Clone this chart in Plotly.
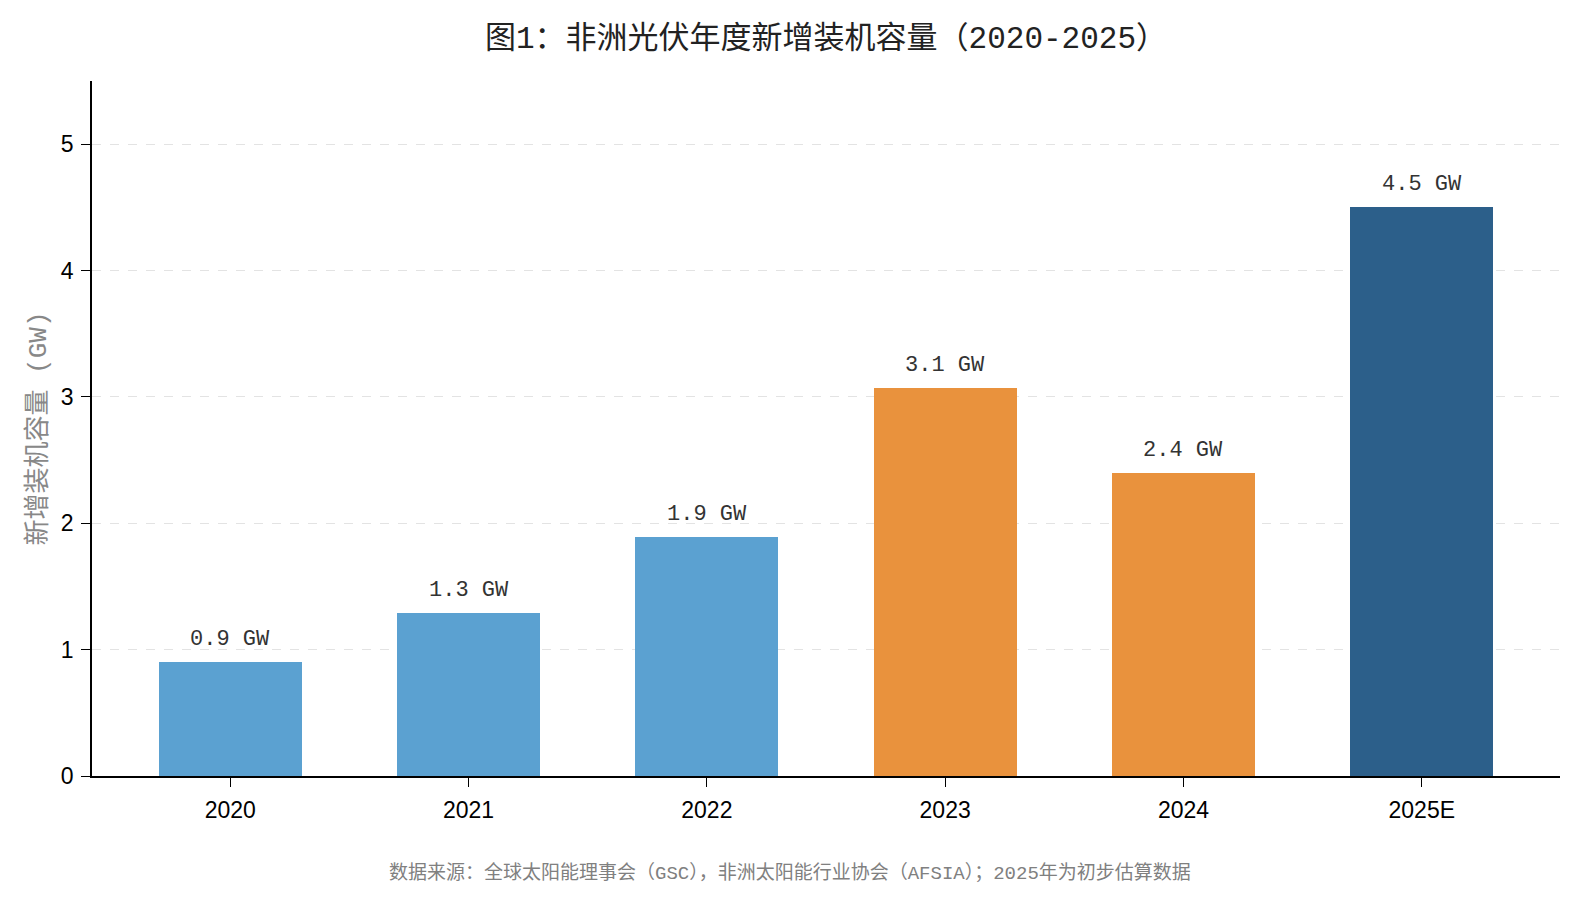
import plotly.graph_objects as go

years = ["2020", "2021", "2022", "2023", "2024", "2025E"]
capacity_gw = [0.9, 1.29, 1.89, 3.07, 2.4, 4.5]
bar_labels = ["0.9 GW", "1.3 GW", "1.9 GW", "3.1 GW", "2.4 GW", "4.5 GW"]
bar_colors = ["#5BA1D1", "#5BA1D1", "#5BA1D1", "#E9923D", "#E9923D", "#2C5F8A"]
y_ticks = [0, 1, 2, 3, 4, 5]

CJK = "Liberation Mono, Noto Sans CJK SC"
LAT = "Liberation Sans, Arial, sans-serif"

fig = go.Figure()
fig.add_trace(go.Bar(
    x=list(range(len(years))), y=capacity_gw, width=0.6,
    marker=dict(color=bar_colors, line=dict(width=0)),
    hoverinfo="skip",
))

for i, (v, t) in enumerate(zip(capacity_gw, bar_labels)):
    fig.add_annotation(x=i, y=v, text=t, showarrow=False, yanchor="bottom",
                       yshift=8, font=dict(family=CJK, size=22, color="#333333"))

fig.add_annotation(xref="paper", yref="paper", x=0.4755, y=-0.14, xanchor="center",
                   yanchor="middle", showarrow=False,
                   text="数据来源：全球太阳能理事会（GSC），非洲太阳能行业协会（AFSIA）；2025年为初步估算数据",
                   font=dict(family=CJK, size=19, color="#808080"))

fig.update_layout(
    width=1580, height=903,
    margin=dict(l=92, r=20, t=81, b=127),
    paper_bgcolor="white", plot_bgcolor="white",
    showlegend=False,
    title=dict(text="图1：非洲光伏年度新增装机容量（2020-2025）", xref="paper", x=0.5,
               xanchor="center", y=0.959, yanchor="middle",
               font=dict(family=CJK, size=31, color="#222222")),
    xaxis=dict(range=[-0.58, 5.58], tickmode="array", tickvals=list(range(len(years))),
               ticktext=years, showgrid=False, zeroline=False, showline=True,
               linecolor="black", linewidth=1.5, ticks="outside", ticklen=9,
               tickwidth=1.3, tickcolor="black", ticklabelstandoff=4,
               tickfont=dict(family=LAT, size=23, color="black")),
    yaxis=dict(range=[0, 5.5], tickmode="array", tickvals=y_ticks,
               showgrid=True, gridcolor="#E3E3E3", griddash="dash", gridwidth=1.2,
               zeroline=False, showline=True, linecolor="black", linewidth=1.5,
               ticks="outside", ticklen=9, tickwidth=1.3, tickcolor="black",
               ticklabelstandoff=3,
               tickfont=dict(family=LAT, size=23, color="black"),
               title=dict(text="新增装机容量 (GW)", standoff=7,
                          font=dict(family=CJK, size=26, color="#888888"))),
    bargap=0,
)

fig.write_html("out.html")
